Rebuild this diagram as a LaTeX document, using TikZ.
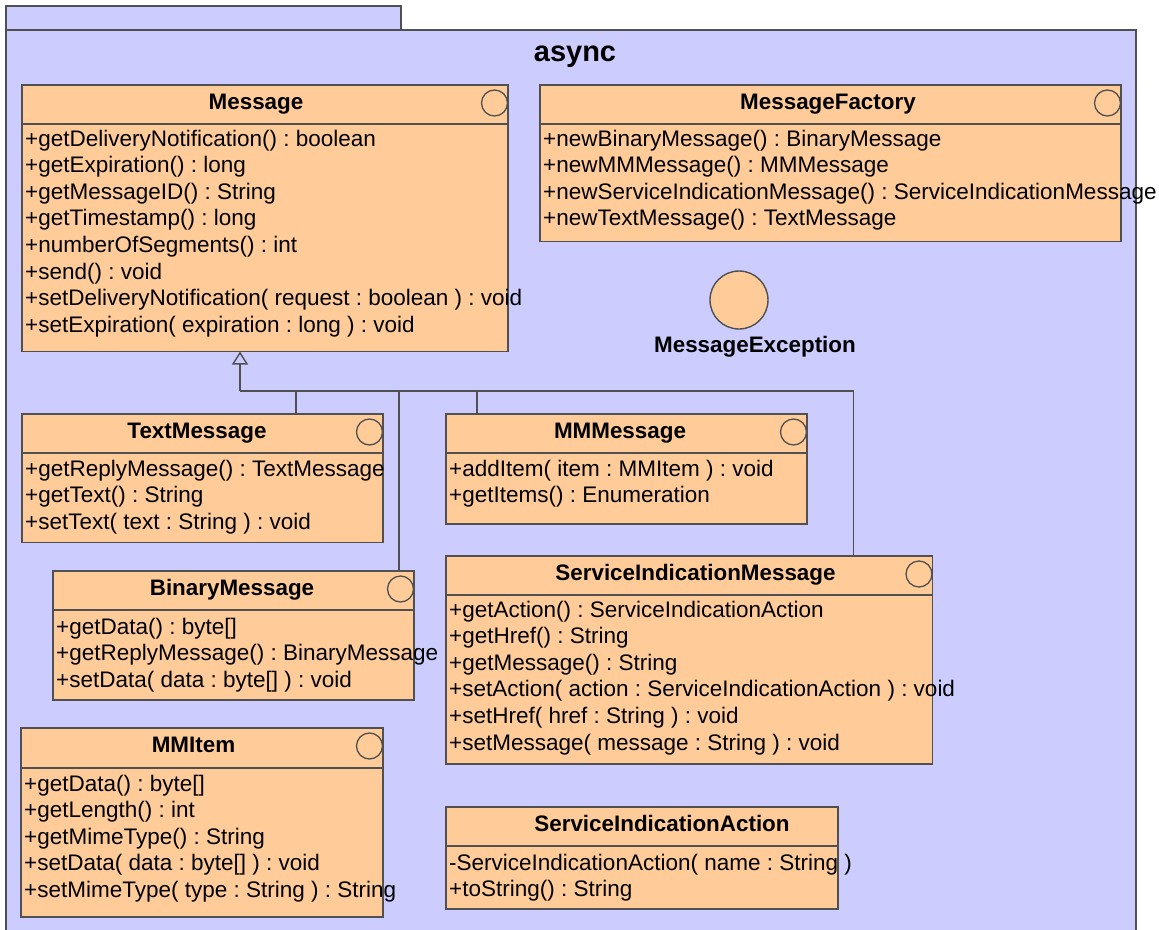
\documentclass[tikz,border=0pt]{standalone}
\usepackage{fontspec}
\setmainfont{Liberation Sans}
\usetikzlibrary{calc,arrows.meta}
\frenchspacing
\definecolor{pkgfill}{HTML}{CCCCFF}
\definecolor{clsfill}{HTML}{FFCC99}
\definecolor{edgegray}{HTML}{505050}
\tikzset{
  pkgshape/.style={draw=edgegray, fill=pkgfill, line width=1.4pt},
  classbox/.style={draw=edgegray, fill=clsfill, line width=1.4pt, rectangle, inner sep=0pt, outer sep=0pt, anchor=north west},
  divider/.style={draw=edgegray, line width=1.4pt},
  titletext/.style={anchor=base, inner sep=0pt, font=\fontsize{22.4pt}{26pt}\selectfont\bfseries},
  optext/.style={anchor=base west, inner sep=0pt, font=\fontsize{22.5pt}{26pt}\selectfont},
  iconcirc/.style={draw=edgegray, circle, line width=1.3pt, minimum size=26pt, inner sep=0pt},
  conn/.style={draw=edgegray, line width=1.4pt},
  inh/.style={conn, -{Triangle[open, length=13pt, width=16pt, line width=1.4pt]}},
}
\newcommand{\umlclass}[9]{%
  \node[classbox, minimum width=#4pt, minimum height=#5pt] (#1) at (#2,#3) {};
  \draw[divider] ($(#1.north west)+(0,#6)$) -- ($(#1.north east)+(0,#6)$);
  \node[titletext] (#1-title) at (#7,#3+24) {#8};
  \ifnum#9=1 \node[iconcirc] (#1-icon) at ($(#1.north east)+(-13.5,18)$) {};\fi
}
\newcommand{\umlops}[4]{%
  \foreach \optxt [count=\i] in {#4} {
    \node[optext] (#1-op\i) at (#2+3, #3+26.65*\i-26.65) {\optxt};
  }
}
\begin{document}
\begin{tikzpicture}[x=1pt,y=-1pt]
\clip (0,0) rectangle (1159,929);
\fill[white] (0,0) rectangle (1159,929);
% package
\draw[pkgshape] (6,6) rectangle (401,30);
\draw[pkgshape] (6,30) rectangle (1136,960);
\node[anchor=base, inner sep=0pt, font=\fontsize{29pt}{34pt}\selectfont\bfseries] (pkgname) at (575,61) {async};

% classes
\umlclass{msg}{22}{85}{486}{266.5}{39}{256}{Message}{1}
\umlops{msg}{22}{146}{{+getDeliveryNotification() : boolean},{+getExpiration() : long},{+getMessageID() : String},{+getTimestamp() : long},{+numberOfSegments() : int},{+send() : void},{+setDeliveryNotification( request : boolean ) : void},{+setExpiration( expiration : long ) : void}}

\umlclass{mf}{540}{85}{581}{156.5}{39}{828}{MessageFactory}{1}
\umlops{mf}{540}{146}{{+newBinaryMessage() : BinaryMessage},{+newMMMessage() : MMMessage},{+newServiceIndicationMessage() : ServiceIndicationMessage},{+newTextMessage() : TextMessage}}

\node[draw=edgegray, fill=clsfill, circle, line width=1.4pt, minimum size=58pt, inner sep=0pt] (mexc) at (739,300) {};
\node[titletext] (mexc-label) at (755,352) {MessageException};

\umlclass{tm}{22}{414}{361}{128.5}{39}{197}{TextMessage}{1}
\umlops{tm}{22}{476}{{+getReplyMessage() : TextMessage},{+getText() : String},{+setText( text : String ) : void}}

\umlclass{bm}{53}{571}{361}{129}{39}{232}{BinaryMessage}{1}
\umlops{bm}{53}{634}{{+getData() : byte[]},{+getReplyMessage() : BinaryMessage},{+setData( data : byte[] ) : void}}

\umlclass{mm}{446}{414}{361}{110}{39}{620}{MMMessage}{1}
\umlops{mm}{446}{476}{{+addItem( item : MMItem ) : void},{+getItems() : Enumeration}}

\umlclass{sim}{446}{556}{486.5}{208}{39}{695.5}{ServiceIndicationMessage}{1}
\umlops{sim}{446}{617}{{+getAction() : ServiceIndicationAction},{+getHref() : String},{+getMessage() : String},{+setAction( action : ServiceIndicationAction ) : void},{+setHref( href : String ) : void},{+setMessage( message : String ) : void}}

\umlclass{mmi}{21}{728}{362}{189}{40}{193.5}{MMItem}{1}
\umlops{mmi}{21}{791}{{+getData() : byte[]},{+getLength() : int},{+getMimeType() : String},{+setData( data : byte[] ) : void},{+setMimeType( type : String ) : String}}

\umlclass{sia}{446}{807}{392}{102}{39}{662}{ServiceIndicationAction}{0}
\umlops{sia}{446}{870}{{-ServiceIndicationAction( name : String )},{+toString() : String}}

% generalization
\coordinate (gen) at ($(msg.south west)+(218,39.5)$);
\draw[conn] ($(tm.north west)+(274,0)$) |- (gen);
\draw[conn] ($(bm.north west)+(346,0)$) |- (gen);
\draw[conn] ($(mm.north west)+(31,0)$) |- (gen);
\draw[conn] ($(sim.north west)+(407.5,0)$) |- (gen);
\draw[inh] (gen) -- (gen |- msg.south);
\end{tikzpicture}
\end{document}
